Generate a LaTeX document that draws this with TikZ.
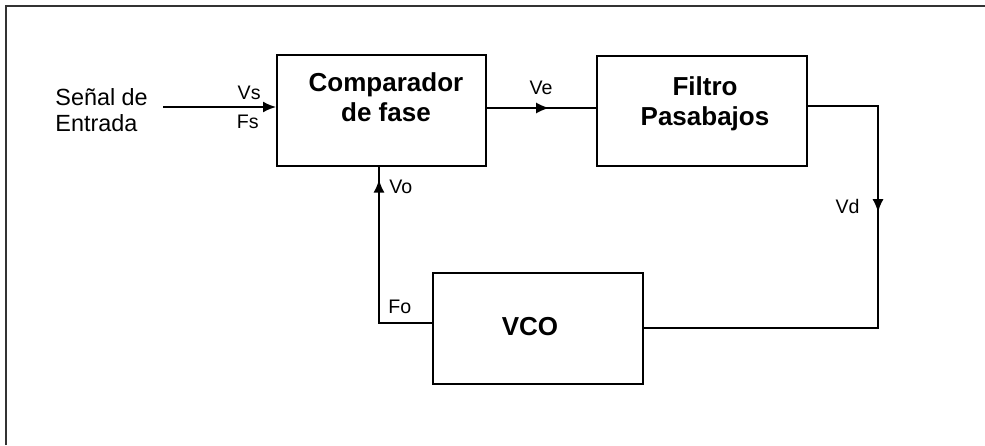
\documentclass[tikz,border=0pt]{standalone}
\usepackage{fontspec}
\setmainfont{Liberation Sans}
\usetikzlibrary{arrows.meta,decorations.markings}
\tikzset{
  blk/.style={draw=black, line width=1pt, inner sep=0pt},
  blktext/.style={font=\fontsize{13}{15}\selectfont\bfseries, align=center, inner sep=0pt},
  lbl/.style={font=\fontsize{9.8}{11}\selectfont, inner sep=0pt},
  intext/.style={font=\fontsize{11.7}{13}\selectfont, align=left, inner sep=0pt},
  wire/.style={line width=0.9pt, black},
  tip/.style={Latex[length=6.5pt,width=5.5pt]},
  midarrow/.style={postaction={decorate}, decoration={markings, mark=at position #1 with {\arrow{Latex[length=6.5pt,width=5.5pt]}}}},
}
\begin{document}
\begin{tikzpicture}[x=0.5pt,y=-0.5pt]
\useasboundingbox (0,0) rectangle (985,445);
% frame
\draw[line width=0.9pt, black!80] (6,445) -- (6,6) -- (985,6);

% blocks
\node[blk, minimum width=104.5pt, minimum height=55.5pt] (comp) at (381.5,110.5) {};
\node[blk, minimum width=105pt, minimum height=55pt] (filt) at (702,111) {};
\node[blk, minimum width=105pt, minimum height=55.5pt] (vco) at (538,328.5) {};

\node[blktext] (compt) at (386,97) {Comparador\\de fase};
\node[blktext] (filtt) at (705,104) {Filtro\\Pasabajos};
\node[blktext] (vcot) at (530,327) {VCO};

% input
\node[intext, anchor=west] (inp) at (55,110) {Señal de\\Entrada};
\coordinate (in) at (163,107);
\draw[wire, -{Latex[length=6.5pt,width=5.5pt]}] (in) -- (comp.west |- in);
\node[lbl, anchor=east] (vs) at (261,93) {Vs};
\node[lbl, anchor=east] (fs) at (259,122) {Fs};

% comparator -> filter
\coordinate (ve) at (540,108);
\draw[wire, midarrow=0.57] (comp.east |- ve) -- (filt.west |- ve);
\node[lbl] (vel) at (541,88) {Ve};

% filter -> VCO
\coordinate (r1) at (878,106);
\coordinate (r2) at (878,328);
\draw[wire, midarrow=0.335] (filt.east |- r1) -- (r1) -- (r2) -- (vco.east |- r2);
\node[lbl, anchor=east] (vdl) at (860,206) {Vd};

% VCO -> comparator
\coordinate (l1) at (379,323);
\draw[wire, midarrow=0.94] (vco.west |- l1) -- (l1) -- (l1 |- comp.south);
\node[lbl, anchor=west] (vol) at (389,187) {Vo};
\node[lbl, anchor=west] (fol) at (388,307) {Fo};
\end{tikzpicture}
\end{document}
